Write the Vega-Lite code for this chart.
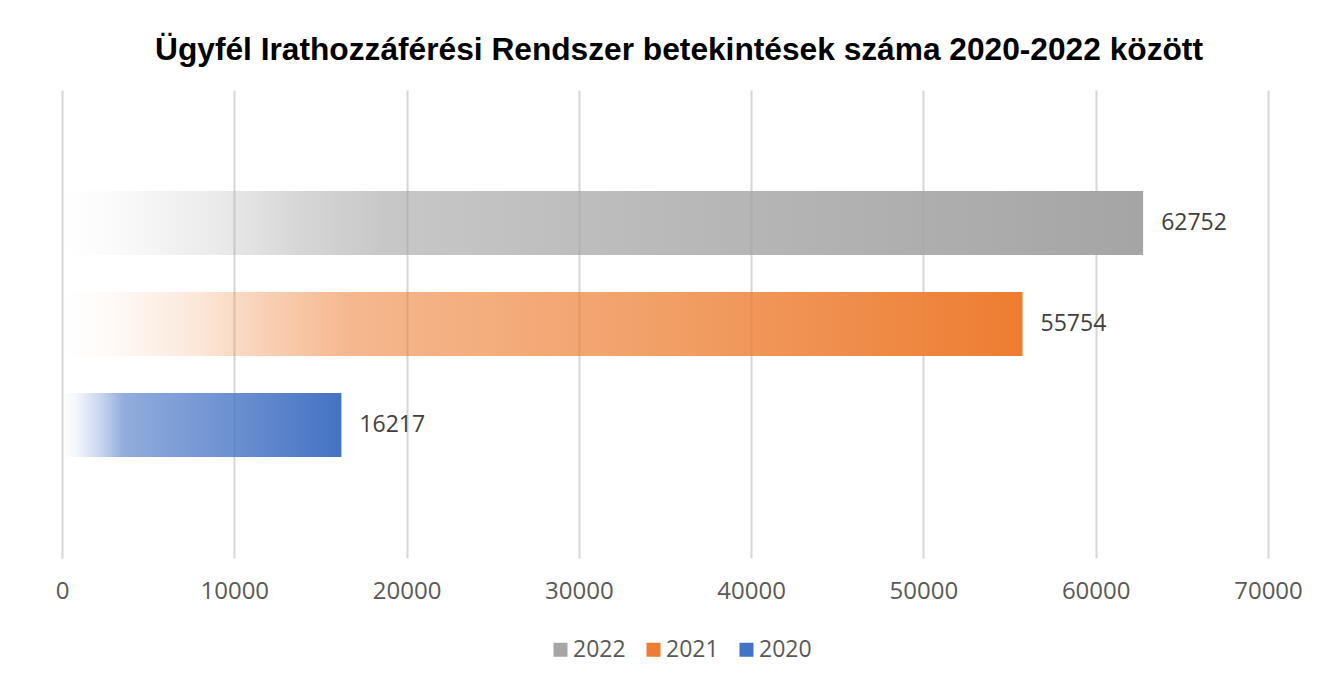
{
  "$schema": "https://vega.github.io/schema/vega-lite/v6.json",
  "width": 1206,
  "height": 468,
  "autosize": {"type": "none"},
  "padding": {"left": 62, "top": 90, "right": 69, "bottom": 132},
  "background": "white",
  "title": {
    "text": "Ügyfél Irathozzáférési Rendszer betekintések száma 2020-2022 között",
    "font": "Liberation Sans",
    "fontWeight": "bold",
    "fontSize": 31.7,
    "color": "#000000",
    "anchor": "middle",
    "baseline": "alphabetic",
    "offset": -2,
    "dx": 14
  },
  "data": {
    "values": [
      {"year": "2022", "value": 62752},
      {"year": "2021", "value": 55754},
      {"year": "2020", "value": 16217}
    ]
  },
  "encoding": {
    "y": {
      "field": "year",
      "type": "nominal",
      "sort": ["2022", "2021", "2020"],
      "scale": {"paddingInner": 0.367, "paddingOuter": 1.05},
      "axis": null
    },
    "x": {
      "field": "value",
      "type": "quantitative",
      "scale": {"domain": [0, 70000], "nice": false},
      "axis": {
        "values": [0, 10000, 20000, 30000, 40000, 50000, 60000, 70000],
        "format": "d",
        "title": null,
        "grid": true,
        "gridColor": "#d6d6d6",
        "gridWidth": 2,
        "domain": false,
        "ticks": false,
        "labelFont": "Open Sans",
        "labelFontSize": 24,
        "labelColor": "#595959",
        "labelPadding": 21,
        "labelFlush": false
      }
    }
  },
  "layer": [
    {
      "transform": [{"filter": "datum.year === '2022'"}],
      "mark": {
        "type": "bar",
        "fill": {
          "gradient": "linear", "x1": 0, "y1": 0, "x2": 1, "y2": 0,
          "stops": [
            {"offset": 0, "color": "rgba(165,165,165,0)"},
            {"offset": 0.05, "color": "rgba(165,165,165,0.05)"},
            {"offset": 0.14, "color": "rgba(165,165,165,0.22)"},
            {"offset": 0.22, "color": "rgba(165,165,165,0.45)"},
            {"offset": 0.3, "color": "rgba(165,165,165,0.62)"},
            {"offset": 0.6, "color": "rgba(165,165,165,0.8)"},
            {"offset": 1, "color": "rgba(165,165,165,1)"}
          ]
        }
      },
      "encoding": {
        "color": {
          "field": "year",
          "type": "nominal",
          "scale": {"domain": ["2022", "2021", "2020"], "range": ["#a5a5a5", "#ed7d31", "#4472c4"]},
          "legend": {
            "orient": "none",
            "legendX": 487,
            "legendY": 548,
            "direction": "horizontal",
            "title": null,
            "symbolType": "square",
            "symbolSize": 196,
            "symbolStrokeWidth": 0,
            "labelFont": "Open Sans",
            "labelFontSize": 23,
            "labelColor": "#595959",
            "labelOffset": 1,
            "columnPadding": 16,
            "encode": {
              "symbols": {
                "update": {
                  "fill": {"signal": "{gradient: 'linear', x1: 0, y1: 0, x2: 1, y2: 0, stops: [{offset: 0, color: '#ffffff'}, {offset: 0.5, color: scale('color', datum.value)}, {offset: 1, color: scale('color', datum.value)}]}"}
                }
              }
            }
          }
        }
      }
    },
    {
      "transform": [{"filter": "datum.year === '2021'"}],
      "mark": {
        "type": "bar",
        "fill": {
          "gradient": "linear", "x1": 0, "y1": 0, "x2": 1, "y2": 0,
          "stops": [
            {"offset": 0, "color": "rgba(237,125,49,0)"},
            {"offset": 0.05, "color": "rgba(237,125,49,0.04)"},
            {"offset": 0.14, "color": "rgba(237,125,49,0.18)"},
            {"offset": 0.22, "color": "rgba(237,125,49,0.38)"},
            {"offset": 0.3, "color": "rgba(237,125,49,0.55)"},
            {"offset": 0.6, "color": "rgba(237,125,49,0.72)"},
            {"offset": 1, "color": "rgba(237,125,49,1)"}
          ]
        }
      },
      "encoding": {
        "color": {"field": "year", "type": "nominal"}
      }
    },
    {
      "transform": [{"filter": "datum.year === '2020'"}],
      "mark": {
        "type": "bar",
        "fill": {
          "gradient": "linear", "x1": 0, "y1": 0, "x2": 1, "y2": 0,
          "stops": [
            {"offset": 0, "color": "rgba(68,114,196,0)"},
            {"offset": 0.05, "color": "rgba(68,114,196,0.06)"},
            {"offset": 0.14, "color": "rgba(68,114,196,0.3)"},
            {"offset": 0.22, "color": "rgba(68,114,196,0.58)"},
            {"offset": 0.35, "color": "rgba(68,114,196,0.66)"},
            {"offset": 0.6, "color": "rgba(68,114,196,0.78)"},
            {"offset": 1, "color": "rgba(68,114,196,1)"}
          ]
        }
      },
      "encoding": {
        "color": {"field": "year", "type": "nominal"}
      }
    },
    {
      "mark": {
        "type": "text",
        "align": "left",
        "baseline": "middle",
        "dx": 18,
        "font": "Open Sans",
        "fontSize": 23,
        "color": "#404040"
      },
      "encoding": {
        "text": {"field": "value", "type": "quantitative", "format": "d"}
      }
    }
  ],
  "config": {
    "view": {"stroke": null}
  }
}
